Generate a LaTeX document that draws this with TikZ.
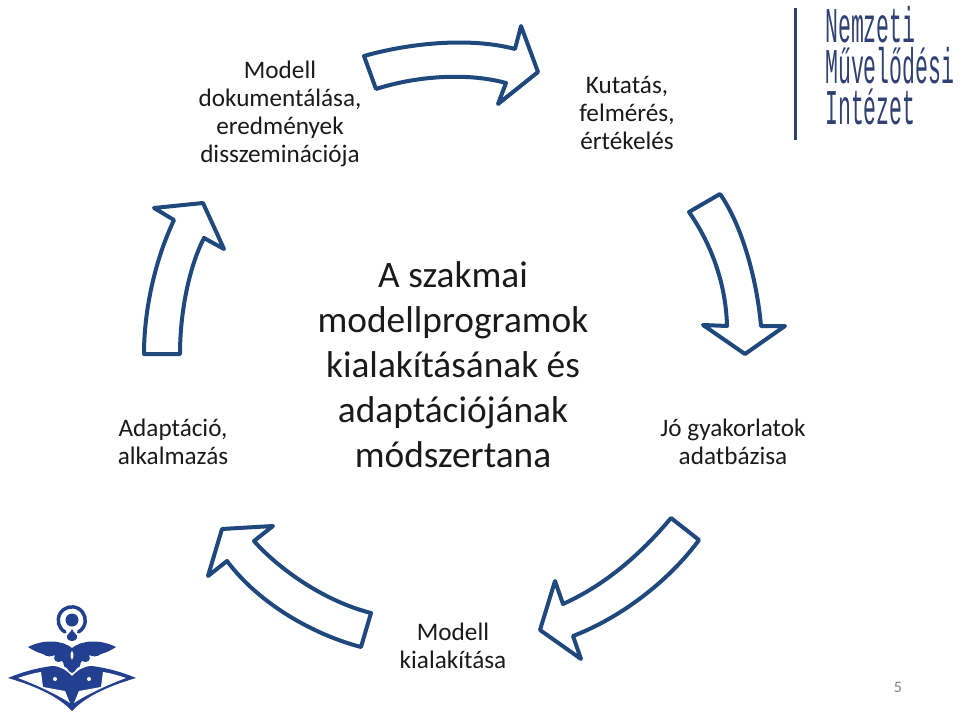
\documentclass[tikz,border=0pt]{standalone}
\usepackage{fontspec}
\setmainfont{Carlito}
\newfontfamily\logofont[FakeStretch=0.43]{Liberation Mono}
\usetikzlibrary{shadows}
\definecolor{arrowblue}{HTML}{1F497D}
\definecolor{logoblue}{HTML}{22408F}
\definecolor{logotext}{HTML}{2F4172}
\definecolor{textgray}{HTML}{1A1A1A}
\tikzset{
  looparrow/.style={draw=arrowblue, line width=3pt, line join=round, fill=white,
    drop shadow={shadow xshift=0.6pt, shadow yshift=-1.2pt, opacity=.18, fill=black}},
  steptext/.style={align=center, text=textgray, font=\fontsize{18.9}{21}\selectfont},
  maintext/.style={align=center, text=textgray, font=\fontsize{28}{33.75}\selectfont},
  logoline/.style={anchor=west, align=left, inner sep=0pt, text=logotext, font=\logofont\fontsize{37.5}{30.75}\selectfont}
}
\begin{document}
\begin{tikzpicture}[x=0.75pt, y=-0.75pt]
  \useasboundingbox (0,0) rectangle (960,720);
  % arrows
  \draw[looparrow] (364,56) .. controls (410,43) and (470,37) .. (515,49) -- (521,26) -- (538,72) -- (498,104) -- (506,83)
    .. controls (470,73) and (420,75) .. (376,89) -- cycle;
  \draw[looparrow] (689,212) -- (720,194) .. controls (742,225) and (757,280) .. (761,326) -- (785,326) -- (745,354) -- (703,325) -- (727,326)
    .. controls (726,285) and (712,245) .. (689,212) -- cycle;
  \draw[looparrow] (671,518) -- (699,540) .. controls (668,582) and (620,618) .. (573,636) -- (581,659) -- (540,630) -- (555,581) -- (563,604)
    .. controls (605,585) and (640,555) .. (671,518) -- cycle;
  \draw[looparrow] (371,613) -- (361,647) .. controls (315,635) and (260,605) .. (227,561) -- (208,576) -- (222,529) -- (273,526) -- (254,541)
    .. controls (275,565) and (320,600) .. (371,613) -- cycle;
  \draw[looparrow] (144,354) -- (180,354) .. controls (180,310) and (190,265) .. (204,238) -- (224,249) -- (203,203) -- (154,208) -- (174,220)
    .. controls (155,260) and (144,310) .. (144,354) -- cycle;
  % labels
  \node[steptext] (dokumentalas) at (280,114) {Modell\\dokumentálása,\\eredmények\\disszeminációja};
  \node[steptext] (kutatas) at (627,113) {Kutatás,\\felmérés,\\értékelés};
  \node[steptext] (adatbazis) at (733,442) {Jó gyakorlatok\\adatbázisa};
  \node[steptext] (kialakitas) at (453,646) {Modell\\kialakítása};
  \node[steptext] (adaptacio) at (173,442) {Adaptáció,\\alkalmazás};
  \node[maintext] (szakmai) at (453,365) {A szakmai\\modellprogramok\\kialakításának és\\adaptációjának\\módszertana};
  \node[text=gray, font=\fontsize{12}{14}\selectfont] (oldal) at (898,687) {5};
  % logo top right
  \fill[logotext] (793.5,8) rectangle (796.5,140);
  \node[logoline] (intezet) at (825,66) {Nemzeti\\Művelődési\\Intézet};
  % logo bottom left
  \begin{scope}[shift={(72,0)}]
    \draw[logoblue, line width=2.6pt, line cap=round] (-7,632) arc[start angle=120, end angle=420, radius=13.5];
    \fill[logoblue] (0,620) circle (6.5);
    \fill[logoblue] (0,629) .. controls (1,633) and (6,634) .. (5,638) .. controls (4,642) and (-4,642) .. (-5,638) .. controls (-6,634) and (-1,633) .. (0,629) -- cycle;
    \foreach \side in {1,-1} {
      \begin{scope}[xscale=\side]
        % wing
        \fill[logoblue] (0,648) .. controls (-10,640) and (-28,639) .. (-44,647) .. controls (-38,651) and (-33,653) .. (-29,654)
          .. controls (-25,657) and (-21,657) .. (-17,655) .. controls (-20,660) and (-15,664) .. (-10,661) .. controls (-7,663) and (-10,667) .. (-5,668)
          .. controls (-4,671) and (-2,672) .. (0,673) -- cycle;
        % carpet
        \fill[logoblue] (0,676) .. controls (-6,670) and (-12,666) .. (-20,666) .. controls (-35,668) and (-50,672) .. (-64,678)
          .. controls (-40,685) and (-15,695) .. (0,711) -- cycle;
        \fill[white] (-54,678) .. controls (-45,675) and (-38,673) .. (-31,672) -- (-29,687) -- (-7,691) -- (-2,703) .. controls (-14,695) and (-35,685) .. (-54,678) -- cycle;
        \fill[white] (-17,679) circle (2);
      \end{scope}
    }
    \fill[white] (0,660) .. controls (-3,655) and (-1,652) .. (0,651) .. controls (1,652) and (3,655) .. (0,660) -- cycle;
  \end{scope}
\end{tikzpicture}
\end{document}
